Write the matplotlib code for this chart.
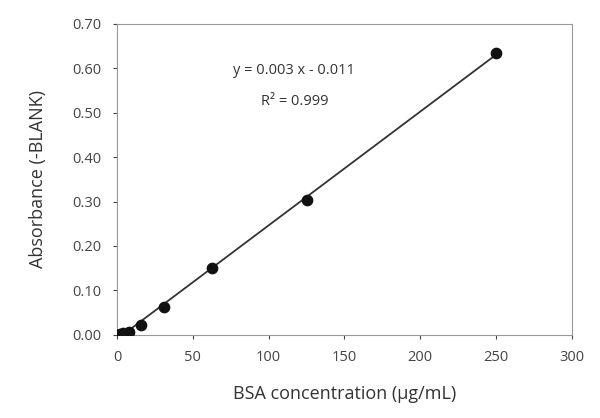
import matplotlib
matplotlib.use("Agg")
import matplotlib.pyplot as plt
import numpy as np

conc = [0, 1.95, 3.9, 7.8, 15.6, 31.25, 62.5, 125, 250]
absorb = [0.000, 0.002, 0.004, 0.007, 0.022, 0.063, 0.150, 0.304, 0.635]
xticks = [0, 50, 100, 150, 200, 250, 300]
yticks = [0.0, 0.1, 0.2, 0.3, 0.4, 0.5, 0.6, 0.7]

plt.rcParams['font.family'] = ['Open Sans', 'DejaVu Sans']
fig = plt.figure(figsize=(6, 4.18), dpi=100)
ax = fig.add_axes([0.195, 0.199, 0.758, 0.744])

k, b = np.polyfit(conc, absorb, 1)
xs = np.array([conc[0], conc[-1]])
ax.plot(xs, k * xs + b, color='#333333', lw=1.3, zorder=2)
ax.scatter(conc, absorb, s=55, color='#111111', zorder=3)

ax.set_xlim(0, 300)
ax.set_ylim(0, 0.7)
ax.set_xticks(xticks)
ax.set_yticks(yticks)
ax.set_yticklabels([f"{v:.2f}" for v in yticks])
for s in ax.spines.values():
    s.set_color('#999999')
ax.tick_params(colors='#444444', labelsize=10.5, length=3)
ax.tick_params(axis='x', pad=8)
ax.tick_params(axis='y', pad=8)
ax.text(117, 0.595, "y = 0.003 x - 0.011", ha='center', va='center', fontsize=10.5, color='#333333')
ax.text(117, 0.525, "R² = 0.999", ha='center', va='center', fontsize=10.5, color='#333333')
ax.set_xlabel("BSA concentration (μg/mL)", fontsize=13, color='#333333', labelpad=14)
ax.set_ylabel("Absorbance (-BLANK)", fontsize=13, color='#333333', labelpad=18)
fig.savefig("out.png", dpi=100)
